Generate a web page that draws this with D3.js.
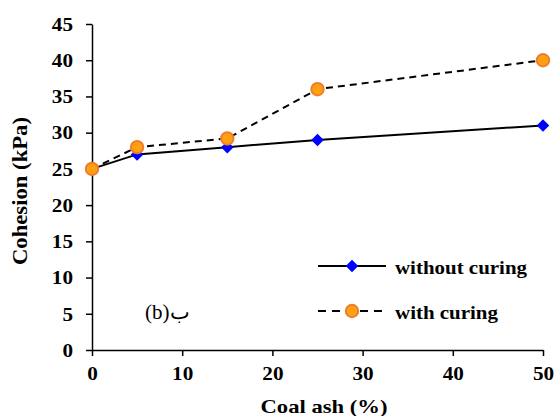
<!DOCTYPE html>
<html>
<head>
<meta charset="utf-8">
<script src="https://cdn.jsdelivr.net/npm/d3@7"></script>
<style>
  body { margin: 0; background: #fff; }
  svg { display: block; }
</style>
</head>
<body>
<svg id="chart"></svg>
<script>
// Cohesion vs coal ash content
const coalAsh = [0, 5, 15, 25, 50];
const withoutCuring = [25, 27, 28, 29, 31];
const withCuring = [25, 28, 29.2, 36, 40];
const xTicks = [0, 10, 20, 30, 40, 50];
const yTicks = [0, 5, 10, 15, 20, 25, 30, 35, 40, 45];

const FONT = '"Liberation Serif", "Times New Roman", Times, serif';
const width = 556, height = 416;
const margin = { top: 24, right: 13, bottom: 66, left: 92 };

const svg = d3.select('#chart').attr('width', width).attr('height', height)
  .attr('font-family', FONT);

const x = d3.scaleLinear().domain([0, 50]).range([margin.left, width - margin.right]);
const y = d3.scaleLinear().domain([0, 45]).range([height - margin.bottom, margin.top]);

// the original's bold serif is a bit wider than Liberation Serif, so stretch with textLength
function stretch(sel, w) {
  sel.attr('textLength', w).attr('lengthAdjust', 'spacingAndGlyphs');
}

// axes
const xAxis = svg.append('g')
  .attr('transform', `translate(0,${y(0)})`)
  .call(d3.axisBottom(x).tickValues(xTicks).tickSize(6).tickSizeOuter(0).tickPadding(10));
const yAxis = svg.append('g')
  .attr('transform', `translate(${x(0)},0)`)
  .call(d3.axisLeft(y).tickValues(yTicks).tickSize(6).tickSizeOuter(0).tickPadding(13));

[xAxis, yAxis].forEach(a => {
  a.attr('font-family', FONT).attr('font-size', 19.5).attr('font-weight', 'bold');
  a.selectAll('path, line').attr('stroke', '#000').attr('stroke-width', 1.5);
  a.selectAll('text').attr('fill', '#000')
    .each(function (d) { stretch(d3.select(this), String(d).length * 10.6); });
});

// axis titles
svg.append('text').attr('x', 324).attr('y', 413)
  .attr('text-anchor', 'middle').attr('font-size', 19.5).attr('font-weight', 'bold')
  .call(stretch, 127)
  .text('Coal ash (%)');
svg.append('text')
  .attr('transform', 'translate(27,191) rotate(-90)')
  .attr('text-anchor', 'middle').attr('font-size', 21).attr('font-weight', 'bold')
  .call(stretch, 148)
  .text('Cohesion (kPa)');

const line = d3.line().x(d => x(d[0])).y(d => y(d[1]));

const ptsA = coalAsh.map((c, i) => [c, withoutCuring[i]]);
const ptsB = coalAsh.map((c, i) => [c, withCuring[i]]);

svg.append('path').attr('d', line(ptsA))
  .attr('fill', 'none').attr('stroke', '#000').attr('stroke-width', 2);
svg.append('path').attr('d', line(ptsB))
  .attr('fill', 'none').attr('stroke', '#000').attr('stroke-width', 2)
  .attr('stroke-dasharray', '7,5');

const diamond = d3.symbol().type(d3.symbolDiamond2).size(100);

function drawDiamond(cx, cy) {
  svg.append('path').attr('d', diamond())
    .attr('transform', `translate(${cx},${cy})`)
    .attr('fill', '#0000ff');
}
function drawCircle(cx, cy) {
  svg.append('circle').attr('cx', cx).attr('cy', cy).attr('r', 6.2)
    .attr('fill', '#ffa010').attr('stroke', '#ed7d31').attr('stroke-width', 2);
}

ptsA.forEach(p => drawDiamond(x(p[0]), y(p[1])));
ptsB.forEach(p => drawCircle(x(p[0]), y(p[1])));

// legend
svg.append('line').attr('x1', 318).attr('x2', 386).attr('y1', 266).attr('y2', 266)
  .attr('stroke', '#000').attr('stroke-width', 2);
drawDiamond(352, 266);
svg.append('text').attr('x', 395).attr('y', 274).attr('font-size', 18).attr('font-weight', 'bold')
  .call(stretch, 132)
  .text('without curing');

svg.append('line').attr('x1', 318).attr('x2', 386).attr('y1', 311).attr('y2', 311)
  .attr('stroke', '#000').attr('stroke-width', 2).attr('stroke-dasharray', '8,6');
drawCircle(352, 311);
svg.append('text').attr('x', 395).attr('y', 319).attr('font-size', 18).attr('font-weight', 'bold')
  .call(stretch, 103)
  .text('with curing');

// panel label
svg.append('text').attr('x', 145).attr('y', 319).attr('font-size', 21)
  .text('(b)ب');
</script>
</body>
</html>
